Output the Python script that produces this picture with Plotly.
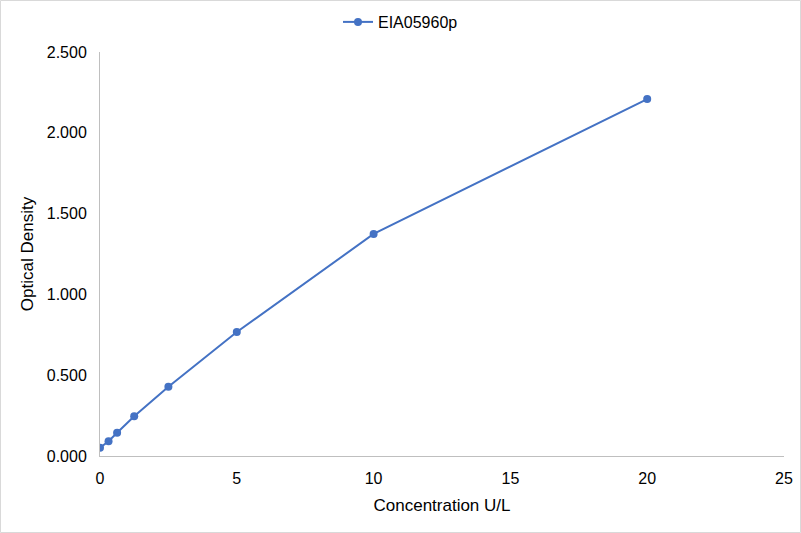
import plotly.graph_objects as go

# standard curve readings
concentration = [0, 0.3125, 0.625, 1.25, 2.5, 5, 10, 20]
optical_density = [0.051, 0.091, 0.144, 0.246, 0.429, 0.767, 1.374, 2.209]
series_name = 'EIA05960p'

x_ticks = [0, 5, 10, 15, 20, 25]
y_ticks = [0, 0.5, 1.0, 1.5, 2.0, 2.5]

blue = '#4472C4'
axis_grey = '#BFBFBF'
font = dict(family='Liberation Sans, Arial, sans-serif', size=16, color='#000000')

fig = go.Figure(
    data=go.Scatter(
        x=concentration,
        y=optical_density,
        name=series_name,
        mode='lines+markers',
        line=dict(color=blue, width=2),
        marker=dict(color=blue, size=8),
    )
)

L, R, T, B = 100, 17, 52, 77
W, H = 801, 533
pw, ph = W - L - R, H - T - B

fig.update_layout(
    width=W,
    height=H,
    margin=dict(l=L, r=R, t=T, b=B, autoexpand=False),
    paper_bgcolor='white',
    plot_bgcolor='white',
    font=font,
    showlegend=True,
    legend=dict(
        orientation='h',
        x=(400.5 - L) / pw,
        xanchor='center',
        y=1 + (T - 22) / ph,
        yanchor='middle',
        font=dict(size=16),
    ),
    xaxis=dict(
        title=dict(text='Concentration U/L', standoff=12, font=dict(size=17)),
        range=[0, 25],
        tickvals=x_ticks,
        showgrid=False,
        zeroline=False,
        showline=True,
        linecolor=axis_grey,
        linewidth=1,
        ticks='',
        ticklabelstandoff=8,
        tickfont=dict(size=16),
        automargin=False,
    ),
    yaxis=dict(
        title=dict(text='Optical Density', standoff=8, font=dict(size=17)),
        range=[0, 2.5],
        tickvals=y_ticks,
        tickformat='.3f',
        showgrid=False,
        zeroline=False,
        showline=True,
        linecolor=axis_grey,
        linewidth=1,
        ticks='',
        ticklabelstandoff=9,
        tickfont=dict(size=16),
        automargin=False,
    ),
    shapes=[
        dict(
            type='rect',
            xref='paper', yref='paper',
            x0=(0.5 - L) / pw, x1=(W - 0.5 - L) / pw,
            y0=-(B - 0.5) / ph, y1=1 + (T - 0.5) / ph,
            line=dict(color='#D9D9D9', width=1),
            fillcolor='rgba(0,0,0,0)',
        )
    ],
)

fig.write_html(
    'out.html',
    config={'displayModeBar': False},
    post_script="document.body.style.margin='0';document.body.style.overflow='hidden';",
)
